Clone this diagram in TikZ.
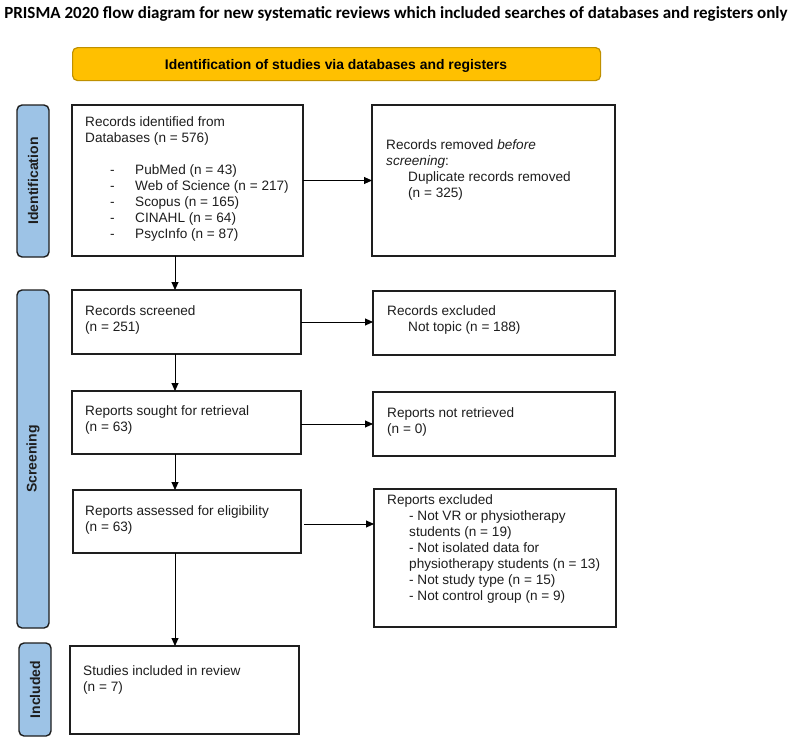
\documentclass[tikz,border=0pt]{standalone}
\usepackage{fontspec}
\setmainfont{Liberation Sans}
\newfontfamily\titlefont{Carlito}
\usetikzlibrary{arrows.meta}
\definecolor{gold}{HTML}{FFC000}
\definecolor{goldedge}{HTML}{BF9000}
\definecolor{sideblue}{HTML}{9DC3E6}
\definecolor{ink}{HTML}{1E1E1E}
\begin{document}
\begin{tikzpicture}[x=1pt,y=-1pt,
  box/.style={draw=ink, line width=1.3pt, fill=white, anchor=north west, inner sep=0pt, outer sep=0pt},
  side/.style={draw=ink, line width=1.4pt, fill=sideblue, rounded corners=5pt, anchor=north west, inner sep=0pt, outer sep=0pt},
  sidetxt/.style={rotate=90, inner sep=0pt, text=ink, font=\bfseries\fontsize{14}{16}\selectfont},
  arr/.style={draw=black, line width=0.9pt, -{Triangle[length=8pt,width=7pt]}},
  txt/.style={anchor=base west, inner sep=0pt, text=ink, font=\fontsize{13.6}{16}\selectfont}]
\useasboundingbox (0,0) rectangle (793,742);
\fill[white] (0,0) rectangle (793,742);

% title
\node[anchor=base, inner sep=0pt, font=\titlefont\bfseries\fontsize{17}{20}\selectfont] (title) at (396,18.3)
  {PRISMA 2020 flow diagram for new systematic reviews which included searches of databases and registers only};

% header bar
\node[draw=goldedge, fill=gold, line width=1.2pt, rounded corners=5pt, anchor=north west,
      minimum width=528pt, minimum height=33pt, inner sep=0pt] (hdr) at (72,47) {};
\node[anchor=base, inner sep=0pt, font=\bfseries\fontsize{13.9}{16}\selectfont] (hdrtxt) at (336,69.3)
  {Identification of studies via databases and registers};

% side labels
\node[side, minimum width=32pt, minimum height=152pt] (idlab) at (17,105) {};
\node[sidetxt] (idlabt) at (idlab.center) {Identification};
\node[side, minimum width=32pt, minimum height=338pt] (scrlab) at (17,290) {};
\node[sidetxt] (scrlabt) at (scrlab.center) {Screening};
\node[side, minimum width=32pt, minimum height=93pt] (inclab) at (19,643) {};
\node[sidetxt] (inclabt) at (inclab.center) {Included};

% boxes
\node[box, minimum width=231pt, minimum height=151pt] (b1) at (72,105) {};
\node[box, minimum width=243pt, minimum height=151pt] (rem) at (372,105) {};
\node[box, minimum width=229pt, minimum height=64pt] (scr) at (72,290) {};
\node[box, minimum width=242pt, minimum height=64pt] (exc) at (373,291) {};
\node[box, minimum width=229pt, minimum height=63pt] (sought) at (72,391) {};
\node[box, minimum width=242pt, minimum height=64pt] (nr) at (373,392) {};
\node[box, minimum width=228pt, minimum height=63pt] (ass) at (73,490) {};
\node[box, minimum width=242pt, minimum height=138pt] (rexc) at (374,489) {};
\node[box, minimum width=229pt, minimum height=88pt] (inc) at (70,646) {};

% texts
\node[txt] (b1t) at (85,126) {\begin{tabular}[t]{@{}l@{}}
Records identified from\\
Databases (n = 576)\\
\\
\hspace*{25pt}\makebox[25pt][l]{-}PubMed (n = 43)\\
\hspace*{25pt}\makebox[25pt][l]{-}Web of Science (n = 217)\\
\hspace*{25pt}\makebox[25pt][l]{-}Scopus (n = 165)\\
\hspace*{25pt}\makebox[25pt][l]{-}CINAHL (n = 64)\\
\hspace*{25pt}\makebox[25pt][l]{-}PsycInfo (n = 87)
\end{tabular}};
\node[txt] (remt) at (386,149) {\begin{tabular}[t]{@{}l@{}}
Records removed \textit{before}\\
\textit{screening}:\\
\hspace*{22pt}Duplicate records removed\\
\hspace*{22pt}(n = 325)
\end{tabular}};
\node[txt] (scrt) at (85,315) {\begin{tabular}[t]{@{}l@{}}
Records screened\\
(n = 251)
\end{tabular}};
\node[txt] (exct) at (387,315) {\begin{tabular}[t]{@{}l@{}}
Records excluded\\
\hspace*{21pt}Not topic (n = 188)
\end{tabular}};
\node[txt] (soughtt) at (85,415) {\begin{tabular}[t]{@{}l@{}}
Reports sought for retrieval\\
(n = 63)
\end{tabular}};
\node[txt] (nrt) at (387,417) {\begin{tabular}[t]{@{}l@{}}
Reports not retrieved\\
(n = 0)
\end{tabular}};
\node[txt] (asst) at (85,515) {\begin{tabular}[t]{@{}l@{}}
Reports assessed for eligibility\\
(n = 63)
\end{tabular}};
\node[txt] (rexct) at (387,504) {\begin{tabular}[t]{@{}l@{}}
Reports excluded\\
\hspace*{22pt}- Not VR or physiotherapy\\
\hspace*{22pt}students (n = 19)\\
\hspace*{22pt}- Not isolated data for\\
\hspace*{22pt}physiotherapy students (n = 13)\\
\hspace*{22pt}- Not study type (n = 15)\\
\hspace*{22pt}- Not control group (n = 9)
\end{tabular}};
\node[txt] (inct) at (83,675) {\begin{tabular}[t]{@{}l@{}}
Studies included in review\\
(n = 7)
\end{tabular}};

% connectors
\draw[arr] (b1.east) -- (b1.east -| rem.west);
\draw[arr] ([xshift=103pt]b1.south west) -- ([xshift=103pt]scr.north west);
\draw[arr] (scr.east) -- (scr.east -| exc.west);
\draw[arr] ([xshift=103pt]scr.south west) -- ([xshift=103pt]sought.north west);
\draw[arr] ([yshift=-1.5pt]sought.east) -- ([yshift=-1.5pt]sought.east -| nr.west);
\draw[arr] ([xshift=103pt]sought.south west) -- ([xshift=102pt]ass.north west);
\draw[arr, shorten <=3pt] ([yshift=-2.5pt]ass.east) -- ([yshift=-2.5pt]ass.east -| rexc.west);
\draw[arr] ([xshift=102pt]ass.south west) -- ([xshift=105pt]inc.north west);
\end{tikzpicture}
\end{document}
